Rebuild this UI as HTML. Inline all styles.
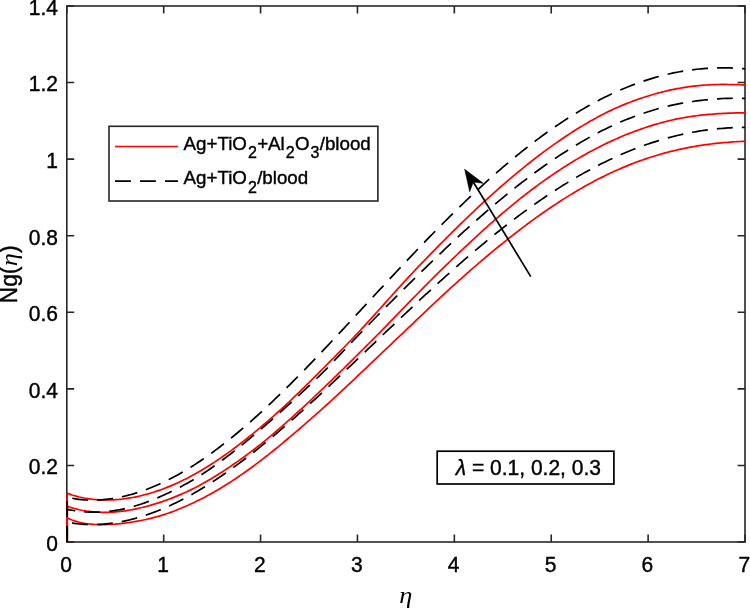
<!DOCTYPE html>
<html lang="en"><head><meta charset="utf-8"><title>Ng(eta) plot</title>
<style>html,body{margin:0;padding:0;background:#fff;}svg{display:block;}text{font-family:"Liberation Sans", sans-serif;fill:#000;stroke:#000;stroke-width:0.4px;}</style>
</head><body>
<svg width="750" height="608" viewBox="0 0 750 608">
<rect x="0" y="0" width="750" height="608" fill="#fff"/>
<rect x="66.80" y="6.00" width="678.20" height="536.00" fill="none" stroke="#262626" stroke-width="1.60"/>
<path d="M66.80,542.00 v-7.40 M66.80,6.00 v7.40 M163.69,542.00 v-7.40 M163.69,6.00 v7.40 M260.57,542.00 v-7.40 M260.57,6.00 v7.40 M357.46,542.00 v-7.40 M357.46,6.00 v7.40 M454.34,542.00 v-7.40 M454.34,6.00 v7.40 M551.23,542.00 v-7.40 M551.23,6.00 v7.40 M648.11,542.00 v-7.40 M648.11,6.00 v7.40 M745.00,542.00 v-7.40 M745.00,6.00 v7.40 M66.80,542.00 h7.40 M745.00,542.00 h-7.40 M66.80,465.43 h7.40 M745.00,465.43 h-7.40 M66.80,388.86 h7.40 M745.00,388.86 h-7.40 M66.80,312.29 h7.40 M745.00,312.29 h-7.40 M66.80,235.71 h7.40 M745.00,235.71 h-7.40 M66.80,159.14 h7.40 M745.00,159.14 h-7.40 M66.80,82.57 h7.40 M745.00,82.57 h-7.40 M66.80,6.00 h7.40 M745.00,6.00 h-7.40" fill="none" stroke="#262626" stroke-width="1.60"/>
<path d="M67.20,542.00 L67.20,493.21 L69.62,494.12 L72.04,494.94 L74.46,495.69 L76.88,496.37 L79.30,496.99 L81.72,497.54 L84.15,498.03 L86.57,498.46 L88.99,498.83 L91.41,499.15 L93.83,499.41 L96.25,499.63 L98.67,499.80 L101.09,499.92 L103.51,499.99 L105.93,500.02 L108.35,500.01 L110.77,499.95 L113.19,499.85 L115.61,499.70 L118.03,499.52 L120.46,499.29 L122.88,499.02 L125.30,498.71 L127.72,498.36 L130.14,497.96 L132.56,497.53 L134.98,497.06 L137.40,496.55 L139.82,496.00 L142.24,495.41 L144.66,494.80 L147.08,494.14 L149.50,493.45 L151.93,492.72 L154.35,491.96 L156.77,491.16 L159.19,490.33 L161.61,489.47 L164.03,488.56 L166.45,487.63 L168.87,486.65 L171.29,485.65 L173.71,484.61 L176.13,483.53 L178.55,482.42 L180.97,481.28 L183.39,480.10 L185.81,478.89 L188.24,477.64 L190.66,476.36 L193.08,475.05 L195.50,473.71 L197.92,472.34 L200.34,470.94 L202.76,469.50 L205.18,468.04 L207.60,466.55 L210.02,465.03 L212.44,463.48 L214.86,461.90 L217.28,460.29 L219.71,458.66 L222.13,457.00 L224.55,455.31 L226.97,453.60 L229.39,451.85 L231.81,450.09 L234.23,448.29 L236.65,446.47 L239.07,444.63 L241.49,442.76 L243.91,440.87 L246.33,438.96 L248.75,437.02 L251.17,435.07 L253.59,433.09 L256.02,431.09 L258.44,429.08 L260.86,427.04 L263.28,424.99 L265.70,422.91 L268.12,420.82 L270.54,418.71 L272.96,416.58 L275.38,414.42 L277.80,412.25 L280.22,410.06 L282.64,407.84 L285.06,405.61 L287.49,403.35 L289.91,401.08 L292.33,398.78 L294.75,396.47 L297.17,394.14 L299.59,391.79 L302.01,389.43 L304.43,387.06 L306.85,384.68 L309.27,382.28 L311.69,379.87 L314.11,377.46 L316.53,375.03 L318.95,372.60 L321.38,370.16 L323.80,367.73 L326.22,365.31 L328.64,362.88 L331.06,360.45 L333.48,358.02 L335.90,355.59 L338.32,353.15 L340.74,350.70 L343.16,348.24 L345.58,345.76 L348.00,343.27 L350.42,340.77 L352.84,338.25 L355.26,335.70 L357.69,333.13 L360.11,330.54 L362.53,327.94 L364.95,325.31 L367.37,322.67 L369.79,320.01 L372.21,317.34 L374.63,314.66 L377.05,311.98 L379.47,309.28 L381.89,306.59 L384.31,303.89 L386.73,301.19 L389.15,298.49 L391.58,295.79 L394.00,293.10 L396.42,290.42 L398.84,287.75 L401.26,285.08 L403.68,282.43 L406.10,279.80 L408.52,277.18 L410.94,274.58 L413.36,272.00 L415.78,269.45 L418.20,266.91 L420.62,264.37 L423.04,261.85 L425.47,259.33 L427.89,256.82 L430.31,254.32 L432.73,251.83 L435.15,249.35 L437.57,246.88 L439.99,244.43 L442.41,241.98 L444.83,239.55 L447.25,237.14 L449.67,234.73 L452.09,232.33 L454.51,229.94 L456.94,227.57 L459.36,225.20 L461.78,222.85 L464.20,220.51 L466.62,218.18 L469.04,215.86 L471.46,213.56 L473.88,211.26 L476.30,208.99 L478.72,206.72 L481.14,204.47 L483.56,202.23 L485.98,200.01 L488.40,197.80 L490.82,195.61 L493.25,193.43 L495.67,191.27 L498.09,189.13 L500.51,187.00 L502.93,184.88 L505.35,182.78 L507.77,180.70 L510.19,178.64 L512.61,176.59 L515.03,174.56 L517.45,172.55 L519.87,170.55 L522.29,168.57 L524.72,166.62 L527.14,164.68 L529.56,162.75 L531.98,160.85 L534.40,158.97 L536.82,157.10 L539.24,155.26 L541.66,153.43 L544.08,151.63 L546.50,149.84 L548.92,148.08 L551.34,146.34 L553.76,144.61 L556.18,142.91 L558.61,141.23 L561.03,139.57 L563.45,137.93 L565.87,136.31 L568.29,134.72 L570.71,133.14 L573.13,131.59 L575.55,130.06 L577.97,128.56 L580.39,127.07 L582.81,125.61 L585.23,124.17 L587.65,122.76 L590.07,121.36 L592.50,119.99 L594.92,118.65 L597.34,117.33 L599.76,116.03 L602.18,114.76 L604.60,113.52 L607.02,112.31 L609.44,111.13 L611.86,109.98 L614.28,108.85 L616.70,107.76 L619.12,106.69 L621.54,105.65 L623.96,104.64 L626.39,103.66 L628.81,102.70 L631.23,101.77 L633.65,100.86 L636.07,99.98 L638.49,99.13 L640.91,98.29 L643.33,97.49 L645.75,96.70 L648.17,95.94 L650.59,95.20 L653.01,94.49 L655.43,93.79 L657.85,93.12 L660.27,92.47 L662.70,91.85 L665.12,91.25 L667.54,90.68 L669.96,90.14 L672.38,89.62 L674.80,89.13 L677.22,88.66 L679.64,88.22 L682.06,87.80 L684.48,87.41 L686.90,87.05 L689.32,86.71 L691.74,86.40 L694.17,86.11 L696.59,85.84 L699.01,85.60 L701.43,85.38 L703.85,85.19 L706.27,85.01 L708.69,84.86 L711.11,84.74 L713.53,84.63 L715.95,84.55 L718.37,84.49 L720.79,84.46 L723.21,84.46 L725.63,84.47 L728.05,84.50 L730.48,84.53 L732.90,84.57 L735.32,84.61 L737.74,84.66 L740.16,84.73 L742.58,84.82 L745.00,84.93" fill="none" stroke="#ff0000" stroke-width="1.70" stroke-linejoin="round"/>
<path d="M67.20,542.00 L67.20,506.21 L69.62,507.05 L72.04,507.82 L74.46,508.51 L76.88,509.15 L79.30,509.72 L81.72,510.23 L84.15,510.68 L86.57,511.08 L88.99,511.42 L91.41,511.71 L93.83,511.94 L96.25,512.13 L98.67,512.27 L101.09,512.36 L103.51,512.40 L105.93,512.39 L108.35,512.35 L110.77,512.25 L113.19,512.12 L115.61,511.94 L118.03,511.72 L120.46,511.46 L122.88,511.16 L125.30,510.82 L127.72,510.44 L130.14,510.02 L132.56,509.56 L134.98,509.08 L137.40,508.57 L139.82,508.03 L142.24,507.46 L144.66,506.86 L147.08,506.23 L149.50,505.57 L151.93,504.89 L154.35,504.17 L156.77,503.43 L159.19,502.65 L161.61,501.85 L164.03,501.02 L166.45,500.16 L168.87,499.26 L171.29,498.34 L173.71,497.39 L176.13,496.41 L178.55,495.40 L180.97,494.36 L183.39,493.29 L185.81,492.19 L188.24,491.05 L190.66,489.89 L193.08,488.69 L195.50,487.47 L197.92,486.21 L200.34,484.92 L202.76,483.60 L205.18,482.24 L207.60,480.86 L210.02,479.44 L212.44,477.99 L214.86,476.51 L217.28,475.01 L219.71,473.48 L222.13,471.92 L224.55,470.34 L226.97,468.74 L229.39,467.12 L231.81,465.47 L234.23,463.81 L236.65,462.12 L239.07,460.42 L241.49,458.70 L243.91,456.95 L246.33,455.19 L248.75,453.40 L251.17,451.58 L253.59,449.75 L256.02,447.88 L258.44,446.00 L260.86,444.08 L263.28,442.14 L265.70,440.17 L268.12,438.17 L270.54,436.14 L272.96,434.09 L275.38,432.02 L277.80,429.94 L280.22,427.84 L282.64,425.72 L285.06,423.59 L287.49,421.44 L289.91,419.27 L292.33,417.10 L294.75,414.90 L297.17,412.70 L299.59,410.49 L302.01,408.26 L304.43,406.02 L306.85,403.77 L309.27,401.52 L311.69,399.25 L314.11,396.97 L316.53,394.68 L318.95,392.38 L321.38,390.08 L323.80,387.77 L326.22,385.45 L328.64,383.12 L331.06,380.78 L333.48,378.44 L335.90,376.09 L338.32,373.73 L340.74,371.37 L343.16,368.99 L345.58,366.61 L348.00,364.22 L350.42,361.82 L352.84,359.42 L355.26,357.01 L357.69,354.60 L360.11,352.19 L362.53,349.77 L364.95,347.35 L367.37,344.93 L369.79,342.51 L372.21,340.08 L374.63,337.66 L377.05,335.23 L379.47,332.80 L381.89,330.34 L384.31,327.88 L386.73,325.41 L389.15,322.93 L391.58,320.45 L394.00,317.95 L396.42,315.45 L398.84,312.95 L401.26,310.45 L403.68,307.95 L406.10,305.45 L408.52,302.94 L410.94,300.45 L413.36,297.95 L415.78,295.47 L418.20,292.99 L420.62,290.51 L423.04,288.05 L425.47,285.60 L427.89,283.16 L430.31,280.74 L432.73,278.33 L435.15,275.94 L437.57,273.56 L439.99,271.19 L442.41,268.82 L444.83,266.45 L447.25,264.09 L449.67,261.74 L452.09,259.40 L454.51,257.07 L456.94,254.74 L459.36,252.43 L461.78,250.13 L464.20,247.84 L466.62,245.56 L469.04,243.29 L471.46,241.04 L473.88,238.79 L476.30,236.56 L478.72,234.34 L481.14,232.13 L483.56,229.94 L485.98,227.76 L488.40,225.59 L490.82,223.44 L493.25,221.31 L495.67,219.19 L498.09,217.09 L500.51,215.00 L502.93,212.93 L505.35,210.88 L507.77,208.85 L510.19,206.83 L512.61,204.84 L515.03,202.86 L517.45,200.90 L519.87,198.96 L522.29,197.04 L524.72,195.14 L527.14,193.25 L529.56,191.39 L531.98,189.55 L534.40,187.73 L536.82,185.93 L539.24,184.16 L541.66,182.40 L544.08,180.66 L546.50,178.95 L548.92,177.26 L551.34,175.58 L553.76,173.93 L556.18,172.30 L558.61,170.70 L561.03,169.11 L563.45,167.55 L565.87,166.01 L568.29,164.48 L570.71,162.99 L573.13,161.51 L575.55,160.05 L577.97,158.62 L580.39,157.21 L582.81,155.82 L585.23,154.45 L587.65,153.11 L590.07,151.78 L592.50,150.48 L594.92,149.20 L597.34,147.94 L599.76,146.71 L602.18,145.50 L604.60,144.31 L607.02,143.14 L609.44,141.99 L611.86,140.87 L614.28,139.76 L616.70,138.68 L619.12,137.63 L621.54,136.59 L623.96,135.58 L626.39,134.58 L628.81,133.62 L631.23,132.67 L633.65,131.74 L636.07,130.84 L638.49,129.96 L640.91,129.10 L643.33,128.27 L645.75,127.45 L648.17,126.66 L650.59,125.89 L653.01,125.15 L655.43,124.42 L657.85,123.72 L660.27,123.04 L662.70,122.38 L665.12,121.74 L667.54,121.12 L669.96,120.53 L672.38,119.97 L674.80,119.44 L677.22,118.93 L679.64,118.44 L682.06,117.98 L684.48,117.55 L686.90,117.14 L689.32,116.76 L691.74,116.39 L694.17,116.05 L696.59,115.73 L699.01,115.43 L701.43,115.15 L703.85,114.89 L706.27,114.65 L708.69,114.43 L711.11,114.23 L713.53,114.04 L715.95,113.87 L718.37,113.72 L720.79,113.58 L723.21,113.45 L725.63,113.33 L728.05,113.22 L730.48,113.12 L732.90,113.03 L735.32,112.95 L737.74,112.89 L740.16,112.85 L742.58,112.82 L745.00,112.81" fill="none" stroke="#ff0000" stroke-width="1.70" stroke-linejoin="round"/>
<path d="M67.20,542.00 L67.20,517.81 L69.62,518.97 L72.04,519.98 L74.46,520.86 L76.88,521.61 L79.30,522.26 L81.72,522.81 L84.15,523.27 L86.57,523.65 L88.99,523.96 L91.41,524.20 L93.83,524.39 L96.25,524.52 L98.67,524.60 L101.09,524.64 L103.51,524.64 L105.93,524.60 L108.35,524.51 L110.77,524.40 L113.19,524.25 L115.61,524.06 L118.03,523.84 L120.46,523.60 L122.88,523.34 L125.30,523.05 L127.72,522.74 L130.14,522.39 L132.56,522.03 L134.98,521.63 L137.40,521.21 L139.82,520.76 L142.24,520.28 L144.66,519.78 L147.08,519.24 L149.50,518.67 L151.93,518.07 L154.35,517.44 L156.77,516.78 L159.19,516.08 L161.61,515.35 L164.03,514.59 L166.45,513.79 L168.87,512.96 L171.29,512.09 L173.71,511.19 L176.13,510.25 L178.55,509.29 L180.97,508.30 L183.39,507.28 L185.81,506.24 L188.24,505.17 L190.66,504.07 L193.08,502.94 L195.50,501.79 L197.92,500.61 L200.34,499.40 L202.76,498.16 L205.18,496.90 L207.60,495.61 L210.02,494.29 L212.44,492.94 L214.86,491.57 L217.28,490.16 L219.71,488.73 L222.13,487.27 L224.55,485.79 L226.97,484.27 L229.39,482.73 L231.81,481.16 L234.23,479.56 L236.65,477.94 L239.07,476.30 L241.49,474.63 L243.91,472.94 L246.33,471.22 L248.75,469.49 L251.17,467.73 L253.59,465.96 L256.02,464.16 L258.44,462.34 L260.86,460.51 L263.28,458.65 L265.70,456.77 L268.12,454.86 L270.54,452.93 L272.96,450.99 L275.38,449.02 L277.80,447.04 L280.22,445.04 L282.64,443.03 L285.06,441.02 L287.49,438.99 L289.91,436.97 L292.33,434.93 L294.75,432.88 L297.17,430.82 L299.59,428.75 L302.01,426.67 L304.43,424.57 L306.85,422.47 L309.27,420.35 L311.69,418.23 L314.11,416.09 L316.53,413.94 L318.95,411.79 L321.38,409.62 L323.80,407.44 L326.22,405.25 L328.64,403.06 L331.06,400.85 L333.48,398.63 L335.90,396.41 L338.32,394.17 L340.74,391.93 L343.16,389.67 L345.58,387.40 L348.00,385.13 L350.42,382.85 L352.84,380.56 L355.26,378.27 L357.69,375.98 L360.11,373.68 L362.53,371.38 L364.95,369.07 L367.37,366.77 L369.79,364.46 L372.21,362.16 L374.63,359.85 L377.05,357.55 L379.47,355.25 L381.89,352.95 L384.31,350.66 L386.73,348.36 L389.15,346.06 L391.58,343.77 L394.00,341.47 L396.42,339.17 L398.84,336.87 L401.26,334.57 L403.68,332.27 L406.10,329.96 L408.52,327.65 L410.94,325.35 L413.36,323.04 L415.78,320.73 L418.20,318.42 L420.62,316.12 L423.04,313.82 L425.47,311.52 L427.89,309.23 L430.31,306.94 L432.73,304.66 L435.15,302.38 L437.57,300.12 L439.99,297.86 L442.41,295.61 L444.83,293.37 L447.25,291.14 L449.67,288.93 L452.09,286.73 L454.51,284.54 L456.94,282.36 L459.36,280.19 L461.78,278.02 L464.20,275.87 L466.62,273.73 L469.04,271.60 L471.46,269.48 L473.88,267.37 L476.30,265.28 L478.72,263.19 L481.14,261.12 L483.56,259.06 L485.98,257.02 L488.40,254.98 L490.82,252.96 L493.25,250.95 L495.67,248.95 L498.09,246.97 L500.51,245.00 L502.93,243.04 L505.35,241.10 L507.77,239.17 L510.19,237.25 L512.61,235.35 L515.03,233.46 L517.45,231.59 L519.87,229.73 L522.29,227.89 L524.72,226.06 L527.14,224.25 L529.56,222.46 L531.98,220.68 L534.40,218.92 L536.82,217.17 L539.24,215.44 L541.66,213.73 L544.08,212.04 L546.50,210.36 L548.92,208.70 L551.34,207.06 L553.76,205.44 L556.18,203.84 L558.61,202.25 L561.03,200.69 L563.45,199.14 L565.87,197.61 L568.29,196.10 L570.71,194.62 L573.13,193.15 L575.55,191.70 L577.97,190.27 L580.39,188.86 L582.81,187.48 L585.23,186.11 L587.65,184.76 L590.07,183.44 L592.50,182.13 L594.92,180.85 L597.34,179.59 L599.76,178.35 L602.18,177.13 L604.60,175.93 L607.02,174.75 L609.44,173.60 L611.86,172.46 L614.28,171.35 L616.70,170.26 L619.12,169.19 L621.54,168.14 L623.96,167.11 L626.39,166.11 L628.81,165.12 L631.23,164.16 L633.65,163.22 L636.07,162.30 L638.49,161.41 L640.91,160.53 L643.33,159.68 L645.75,158.84 L648.17,158.03 L650.59,157.24 L653.01,156.47 L655.43,155.72 L657.85,154.99 L660.27,154.29 L662.70,153.60 L665.12,152.94 L667.54,152.29 L669.96,151.67 L672.38,151.06 L674.80,150.48 L677.22,149.91 L679.64,149.37 L682.06,148.84 L684.48,148.33 L686.90,147.85 L689.32,147.38 L691.74,146.93 L694.17,146.50 L696.59,146.09 L699.01,145.69 L701.43,145.32 L703.85,144.96 L706.27,144.61 L708.69,144.29 L711.11,143.98 L713.53,143.69 L715.95,143.42 L718.37,143.16 L720.79,142.92 L723.21,142.69 L725.63,142.48 L728.05,142.28 L730.48,142.10 L732.90,141.93 L735.32,141.77 L737.74,141.63 L740.16,141.50 L742.58,141.39 L745.00,141.28" fill="none" stroke="#ff0000" stroke-width="1.70" stroke-linejoin="round"/>
<path d="M67.20,542.00 L67.20,497.19 L69.62,497.74 L72.04,498.23 L74.46,498.67 L76.88,499.05 L79.30,499.38 L81.72,499.64 L84.15,499.85 L86.57,500.01 L88.99,500.10 L91.41,500.15 L93.83,500.14 L96.25,500.08 L98.67,499.97 L101.09,499.82 L103.51,499.62 L105.93,499.38 L108.35,499.10 L110.77,498.78 L113.19,498.42 L115.61,498.01 L118.03,497.57 L120.46,497.09 L122.88,496.57 L125.30,496.00 L127.72,495.40 L130.14,494.76 L132.56,494.09 L134.98,493.37 L137.40,492.62 L139.82,491.83 L142.24,491.00 L144.66,490.14 L147.08,489.24 L149.50,488.30 L151.93,487.33 L154.35,486.33 L156.77,485.28 L159.19,484.21 L161.61,483.10 L164.03,481.95 L166.45,480.77 L168.87,479.56 L171.29,478.32 L173.71,477.04 L176.13,475.73 L178.55,474.39 L180.97,473.01 L183.39,471.61 L185.81,470.17 L188.24,468.71 L190.66,467.21 L193.08,465.69 L195.50,464.13 L197.92,462.54 L200.34,460.93 L202.76,459.29 L205.18,457.62 L207.60,455.92 L210.02,454.20 L212.44,452.44 L214.86,450.67 L217.28,448.86 L219.71,447.03 L222.13,445.18 L224.55,443.30 L226.97,441.39 L229.39,439.46 L231.81,437.51 L234.23,435.53 L236.65,433.53 L239.07,431.51 L241.49,429.46 L243.91,427.40 L246.33,425.31 L248.75,423.20 L251.17,421.07 L253.59,418.92 L256.02,416.75 L258.44,414.56 L260.86,412.35 L263.28,410.13 L265.70,407.88 L268.12,405.62 L270.54,403.34 L272.96,401.04 L275.38,398.73 L277.80,396.40 L280.22,394.05 L282.64,391.69 L285.06,389.32 L287.49,386.93 L289.91,384.53 L292.33,382.11 L294.75,379.68 L297.17,377.24 L299.59,374.78 L302.01,372.32 L304.43,369.84 L306.85,367.35 L309.27,364.86 L311.69,362.35 L314.11,359.83 L316.53,357.30 L318.95,354.77 L321.38,352.23 L323.80,349.68 L326.22,347.12 L328.64,344.56 L331.06,341.99 L333.48,339.41 L335.90,336.83 L338.32,334.24 L340.74,331.65 L343.16,329.06 L345.58,326.46 L348.00,323.86 L350.42,321.25 L352.84,318.65 L355.26,316.04 L357.69,313.43 L360.11,310.82 L362.53,308.20 L364.95,305.59 L367.37,302.98 L369.79,300.36 L372.21,297.75 L374.63,295.14 L377.05,292.53 L379.47,289.92 L381.89,287.32 L384.31,284.71 L386.73,282.11 L389.15,279.52 L391.58,276.92 L394.00,274.33 L396.42,271.75 L398.84,269.17 L401.26,266.59 L403.68,264.02 L406.10,261.46 L408.52,258.90 L410.94,256.35 L413.36,253.81 L415.78,251.27 L418.20,248.74 L420.62,246.22 L423.04,243.70 L425.47,241.20 L427.89,238.70 L430.31,236.21 L432.73,233.73 L435.15,231.26 L437.57,228.81 L439.99,226.36 L442.41,223.92 L444.83,221.49 L447.25,219.07 L449.67,216.67 L452.09,214.28 L454.51,211.89 L456.94,209.53 L459.36,207.17 L461.78,204.83 L464.20,202.50 L466.62,200.18 L469.04,197.87 L471.46,195.58 L473.88,193.31 L476.30,191.05 L478.72,188.80 L481.14,186.57 L483.56,184.35 L485.98,182.15 L488.40,179.97 L490.82,177.80 L493.25,175.64 L495.67,173.50 L498.09,171.38 L500.51,169.28 L502.93,167.19 L505.35,165.12 L507.77,163.07 L510.19,161.03 L512.61,159.02 L515.03,157.02 L517.45,155.04 L519.87,153.08 L522.29,151.13 L524.72,149.21 L527.14,147.30 L529.56,145.41 L531.98,143.55 L534.40,141.70 L536.82,139.87 L539.24,138.06 L541.66,136.27 L544.08,134.51 L546.50,132.76 L548.92,131.03 L551.34,129.33 L553.76,127.64 L556.18,125.98 L558.61,124.34 L561.03,122.72 L563.45,121.12 L565.87,119.54 L568.29,117.98 L570.71,116.45 L573.13,114.94 L575.55,113.45 L577.97,111.98 L580.39,110.53 L582.81,109.11 L585.23,107.71 L587.65,106.33 L590.07,104.98 L592.50,103.65 L594.92,102.34 L597.34,101.06 L599.76,99.79 L602.18,98.56 L604.60,97.34 L607.02,96.15 L609.44,94.98 L611.86,93.84 L614.28,92.72 L616.70,91.63 L619.12,90.56 L621.54,89.51 L623.96,88.49 L626.39,87.49 L628.81,86.51 L631.23,85.56 L633.65,84.64 L636.07,83.74 L638.49,82.86 L640.91,82.01 L643.33,81.18 L645.75,80.38 L648.17,79.60 L650.59,78.85 L653.01,78.12 L655.43,77.42 L657.85,76.74 L660.27,76.08 L662.70,75.46 L665.12,74.85 L667.54,74.27 L669.96,73.72 L672.38,73.19 L674.80,72.69 L677.22,72.21 L679.64,71.75 L682.06,71.32 L684.48,70.92 L686.90,70.54 L689.32,70.19 L691.74,69.86 L694.17,69.55 L696.59,69.27 L699.01,69.02 L701.43,68.79 L703.85,68.59 L706.27,68.41 L708.69,68.25 L711.11,68.12 L713.53,68.01 L715.95,67.93 L718.37,67.88 L720.79,67.84 L723.21,67.84 L725.63,67.85 L728.05,67.89 L730.48,67.96 L732.90,68.05 L735.32,68.16 L737.74,68.30 L740.16,68.46 L742.58,68.65 L745.00,68.86" fill="none" stroke="#000" stroke-width="1.70" stroke-dasharray="15.9 9.1" stroke-linejoin="round"/>
<path d="M67.20,542.00 L67.20,509.30 L69.62,509.80 L72.04,510.25 L74.46,510.66 L76.88,511.01 L79.30,511.32 L81.72,511.57 L84.15,511.78 L86.57,511.95 L88.99,512.06 L91.41,512.13 L93.83,512.16 L96.25,512.14 L98.67,512.07 L101.09,511.96 L103.51,511.81 L105.93,511.61 L108.35,511.37 L110.77,511.09 L113.19,510.76 L115.61,510.39 L118.03,509.99 L120.46,509.54 L122.88,509.05 L125.30,508.52 L127.72,507.95 L130.14,507.34 L132.56,506.69 L134.98,506.01 L137.40,505.29 L139.82,504.52 L142.24,503.73 L144.66,502.89 L147.08,502.02 L149.50,501.12 L151.93,500.18 L154.35,499.20 L156.77,498.19 L159.19,497.15 L161.61,496.07 L164.03,494.96 L166.45,493.83 L168.87,492.68 L171.29,491.51 L173.71,490.33 L176.13,489.12 L178.55,487.89 L180.97,486.63 L183.39,485.35 L185.81,484.03 L188.24,482.69 L190.66,481.31 L193.08,479.90 L195.50,478.45 L197.92,476.96 L200.34,475.43 L202.76,473.85 L205.18,472.25 L207.60,470.61 L210.02,468.96 L212.44,467.27 L214.86,465.57 L217.28,463.84 L219.71,462.08 L222.13,460.31 L224.55,458.51 L226.97,456.68 L229.39,454.84 L231.81,452.98 L234.23,451.09 L236.65,449.18 L239.07,447.26 L241.49,445.31 L243.91,443.34 L246.33,441.36 L248.75,439.35 L251.17,437.33 L253.59,435.30 L256.02,433.25 L258.44,431.20 L260.86,429.14 L263.28,427.07 L265.70,424.99 L268.12,422.90 L270.54,420.80 L272.96,418.69 L275.38,416.56 L277.80,414.42 L280.22,412.27 L282.64,410.11 L285.06,407.93 L287.49,405.74 L289.91,403.53 L292.33,401.32 L294.75,399.10 L297.17,396.88 L299.59,394.65 L302.01,392.42 L304.43,390.17 L306.85,387.91 L309.27,385.64 L311.69,383.34 L314.11,381.03 L316.53,378.69 L318.95,376.33 L321.38,373.94 L323.80,371.51 L326.22,369.04 L328.64,366.55 L331.06,364.04 L333.48,361.51 L335.90,358.96 L338.32,356.40 L340.74,353.83 L343.16,351.26 L345.58,348.69 L348.00,346.12 L350.42,343.56 L352.84,341.02 L355.26,338.49 L357.69,335.97 L360.11,333.47 L362.53,330.97 L364.95,328.47 L367.37,325.97 L369.79,323.47 L372.21,320.98 L374.63,318.49 L377.05,316.01 L379.47,313.54 L381.89,311.07 L384.31,308.62 L386.73,306.18 L389.15,303.75 L391.58,301.32 L394.00,298.90 L396.42,296.47 L398.84,294.06 L401.26,291.64 L403.68,289.23 L406.10,286.83 L408.52,284.43 L410.94,282.03 L413.36,279.64 L415.78,277.26 L418.20,274.88 L420.62,272.51 L423.04,270.15 L425.47,267.79 L427.89,265.44 L430.31,263.10 L432.73,260.76 L435.15,258.44 L437.57,256.12 L439.99,253.81 L442.41,251.51 L444.83,249.22 L447.25,246.93 L449.67,244.66 L452.09,242.40 L454.51,240.15 L456.94,237.91 L459.36,235.67 L461.78,233.45 L464.20,231.24 L466.62,229.05 L469.04,226.86 L471.46,224.69 L473.88,222.52 L476.30,220.37 L478.72,218.24 L481.14,216.11 L483.56,214.00 L485.98,211.90 L488.40,209.82 L490.82,207.75 L493.25,205.69 L495.67,203.65 L498.09,201.62 L500.51,199.60 L502.93,197.60 L505.35,195.62 L507.77,193.65 L510.19,191.69 L512.61,189.76 L515.03,187.83 L517.45,185.93 L519.87,184.04 L522.29,182.16 L524.72,180.30 L527.14,178.46 L529.56,176.64 L531.98,174.83 L534.40,173.04 L536.82,171.27 L539.24,169.52 L541.66,167.78 L544.08,166.06 L546.50,164.36 L548.92,162.68 L551.34,161.01 L553.76,159.37 L556.18,157.74 L558.61,156.13 L561.03,154.54 L563.45,152.97 L565.87,151.42 L568.29,149.89 L570.71,148.38 L573.13,146.89 L575.55,145.42 L577.97,143.97 L580.39,142.54 L582.81,141.13 L585.23,139.74 L587.65,138.37 L590.07,137.03 L592.50,135.70 L594.92,134.39 L597.34,133.11 L599.76,131.85 L602.18,130.61 L604.60,129.39 L607.02,128.20 L609.44,127.04 L611.86,125.90 L614.28,124.78 L616.70,123.70 L619.12,122.63 L621.54,121.59 L623.96,120.57 L626.39,119.58 L628.81,118.61 L631.23,117.67 L633.65,116.75 L636.07,115.85 L638.49,114.98 L640.91,114.13 L643.33,113.30 L645.75,112.49 L648.17,111.71 L650.59,110.95 L653.01,110.21 L655.43,109.49 L657.85,108.80 L660.27,108.13 L662.70,107.48 L665.12,106.86 L667.54,106.27 L669.96,105.70 L672.38,105.16 L674.80,104.64 L677.22,104.14 L679.64,103.66 L682.06,103.21 L684.48,102.78 L686.90,102.37 L689.32,101.97 L691.74,101.60 L694.17,101.25 L696.59,100.92 L699.01,100.61 L701.43,100.31 L703.85,100.03 L706.27,99.78 L708.69,99.54 L711.11,99.32 L713.53,99.12 L715.95,98.94 L718.37,98.78 L720.79,98.64 L723.21,98.52 L725.63,98.42 L728.05,98.34 L730.48,98.28 L732.90,98.24 L735.32,98.22 L737.74,98.22 L740.16,98.25 L742.58,98.29 L745.00,98.36" fill="none" stroke="#000" stroke-width="1.70" stroke-dasharray="15.9 9.1" stroke-linejoin="round"/>
<path d="M67.20,542.00 L67.20,521.90 L69.62,522.44 L72.04,522.91 L74.46,523.32 L76.88,523.67 L79.30,523.96 L81.72,524.19 L84.15,524.37 L86.57,524.50 L88.99,524.58 L91.41,524.61 L93.83,524.60 L96.25,524.54 L98.67,524.44 L101.09,524.30 L103.51,524.12 L105.93,523.90 L108.35,523.65 L110.77,523.36 L113.19,523.03 L115.61,522.66 L118.03,522.26 L120.46,521.83 L122.88,521.35 L125.30,520.85 L127.72,520.31 L130.14,519.73 L132.56,519.12 L134.98,518.48 L137.40,517.80 L139.82,517.09 L142.24,516.35 L144.66,515.57 L147.08,514.76 L149.50,513.92 L151.93,513.05 L154.35,512.15 L156.77,511.21 L159.19,510.25 L161.61,509.25 L164.03,508.23 L166.45,507.18 L168.87,506.09 L171.29,504.98 L173.71,503.84 L176.13,502.67 L178.55,501.47 L180.97,500.24 L183.39,498.99 L185.81,497.71 L188.24,496.40 L190.66,495.07 L193.08,493.71 L195.50,492.32 L197.92,490.91 L200.34,489.47 L202.76,488.01 L205.18,486.53 L207.60,485.02 L210.02,483.48 L212.44,481.93 L214.86,480.35 L217.28,478.75 L219.71,477.12 L222.13,475.47 L224.55,473.80 L226.97,472.11 L229.39,470.40 L231.81,468.67 L234.23,466.92 L236.65,465.15 L239.07,463.35 L241.49,461.54 L243.91,459.71 L246.33,457.86 L248.75,456.00 L251.17,454.11 L253.59,452.21 L256.02,450.29 L258.44,448.35 L260.86,446.40 L263.28,444.43 L265.70,442.44 L268.12,440.44 L270.54,438.43 L272.96,436.40 L275.38,434.35 L277.80,432.30 L280.22,430.22 L282.64,428.14 L285.06,426.04 L287.49,423.93 L289.91,421.81 L292.33,419.67 L294.75,417.53 L297.17,415.37 L299.59,413.20 L302.01,411.03 L304.43,408.84 L306.85,406.64 L309.27,404.44 L311.69,402.22 L314.11,400.00 L316.53,397.77 L318.95,395.53 L321.38,393.28 L323.80,391.03 L326.22,388.77 L328.64,386.51 L331.06,384.24 L333.48,381.96 L335.90,379.68 L338.32,377.39 L340.74,375.10 L343.16,372.81 L345.58,370.51 L348.00,368.21 L350.42,365.90 L352.84,363.60 L355.26,361.29 L357.69,358.98 L360.11,356.66 L362.53,354.35 L364.95,352.03 L367.37,349.72 L369.79,347.40 L372.21,345.08 L374.63,342.77 L377.05,340.45 L379.47,338.14 L381.89,335.83 L384.31,333.51 L386.73,331.20 L389.15,328.90 L391.58,326.59 L394.00,324.29 L396.42,321.99 L398.84,319.69 L401.26,317.40 L403.68,315.11 L406.10,312.83 L408.52,310.55 L410.94,308.28 L413.36,306.01 L415.78,303.74 L418.20,301.48 L420.62,299.23 L423.04,296.98 L425.47,294.74 L427.89,292.51 L430.31,290.28 L432.73,288.06 L435.15,285.85 L437.57,283.64 L439.99,281.45 L442.41,279.26 L444.83,277.08 L447.25,274.91 L449.67,272.75 L452.09,270.59 L454.51,268.45 L456.94,266.32 L459.36,264.19 L461.78,262.08 L464.20,259.97 L466.62,257.88 L469.04,255.80 L471.46,253.73 L473.88,251.67 L476.30,249.62 L478.72,247.58 L481.14,245.56 L483.56,243.54 L485.98,241.54 L488.40,239.55 L490.82,237.58 L493.25,235.61 L495.67,233.66 L498.09,231.73 L500.51,229.80 L502.93,227.90 L505.35,226.00 L507.77,224.12 L510.19,222.25 L512.61,220.40 L515.03,218.56 L517.45,216.74 L519.87,214.93 L522.29,213.13 L524.72,211.35 L527.14,209.59 L529.56,207.84 L531.98,206.11 L534.40,204.40 L536.82,202.70 L539.24,201.01 L541.66,199.34 L544.08,197.69 L546.50,196.06 L548.92,194.44 L551.34,192.84 L553.76,191.26 L556.18,189.69 L558.61,188.14 L561.03,186.61 L563.45,185.09 L565.87,183.60 L568.29,182.12 L570.71,180.66 L573.13,179.21 L575.55,177.79 L577.97,176.38 L580.39,175.00 L582.81,173.63 L585.23,172.28 L587.65,170.94 L590.07,169.63 L592.50,168.34 L594.92,167.06 L597.34,165.80 L599.76,164.57 L602.18,163.35 L604.60,162.15 L607.02,160.97 L609.44,159.81 L611.86,158.67 L614.28,157.55 L616.70,156.45 L619.12,155.37 L621.54,154.31 L623.96,153.27 L626.39,152.25 L628.81,151.25 L631.23,150.27 L633.65,149.31 L636.07,148.37 L638.49,147.45 L640.91,146.55 L643.33,145.67 L645.75,144.81 L648.17,143.97 L650.59,143.15 L653.01,142.36 L655.43,141.58 L657.85,140.83 L660.27,140.09 L662.70,139.38 L665.12,138.68 L667.54,138.01 L669.96,137.36 L672.38,136.73 L674.80,136.12 L677.22,135.53 L679.64,134.96 L682.06,134.41 L684.48,133.88 L686.90,133.38 L689.32,132.89 L691.74,132.43 L694.17,131.98 L696.59,131.56 L699.01,131.16 L701.43,130.78 L703.85,130.42 L706.27,130.08 L708.69,129.76 L711.11,129.46 L713.53,129.18 L715.95,128.93 L718.37,128.69 L720.79,128.48 L723.21,128.28 L725.63,128.11 L728.05,127.95 L730.48,127.82 L732.90,127.71 L735.32,127.62 L737.74,127.55 L740.16,127.49 L742.58,127.46 L745.00,127.45" fill="none" stroke="#000" stroke-width="1.70" stroke-dasharray="15.9 9.1" stroke-linejoin="round"/>
<text transform="translate(66.10,571.8) scale(1,1.020)" font-size="21.00" text-anchor="middle">0</text>
<text transform="translate(162.99,571.8) scale(1,1.020)" font-size="21.00" text-anchor="middle">1</text>
<text transform="translate(259.87,571.8) scale(1,1.020)" font-size="21.00" text-anchor="middle">2</text>
<text transform="translate(356.76,571.8) scale(1,1.020)" font-size="21.00" text-anchor="middle">3</text>
<text transform="translate(453.64,571.8) scale(1,1.020)" font-size="21.00" text-anchor="middle">4</text>
<text transform="translate(550.53,571.8) scale(1,1.020)" font-size="21.00" text-anchor="middle">5</text>
<text transform="translate(647.41,571.8) scale(1,1.020)" font-size="21.00" text-anchor="middle">6</text>
<text transform="translate(744.30,571.8) scale(1,1.020)" font-size="21.00" text-anchor="middle">7</text>
<text transform="translate(57.9,550.80) scale(1,1.020)" font-size="21.00" text-anchor="end">0</text>
<text transform="translate(57.9,474.23) scale(1,1.020)" font-size="21.00" text-anchor="end">0.2</text>
<text transform="translate(57.9,397.66) scale(1,1.020)" font-size="21.00" text-anchor="end">0.4</text>
<text transform="translate(57.9,321.09) scale(1,1.020)" font-size="21.00" text-anchor="end">0.6</text>
<text transform="translate(57.9,244.51) scale(1,1.020)" font-size="21.00" text-anchor="end">0.8</text>
<text transform="translate(57.9,167.94) scale(1,1.020)" font-size="21.00" text-anchor="end">1</text>
<text transform="translate(57.9,91.37) scale(1,1.020)" font-size="21.00" text-anchor="end">1.2</text>
<text transform="translate(57.9,14.80) scale(1,1.020)" font-size="21.00" text-anchor="end">1.4</text>
<text transform="translate(405.9,602.7) scale(1.13,1)" font-size="23.4" text-anchor="middle" font-style="italic" style="font-family:'Liberation Serif', serif;stroke:none">η</text>
<g transform="translate(16.8,303.4) rotate(-90)"><text transform="scale(1,1.020)" font-size="22.90">Ng(</text><text transform="translate(37.2,0) scale(1.13,1)" font-size="23.4" font-style="italic" style="font-family:'Liberation Serif', serif;stroke:none">η</text><text transform="translate(50.5,0) scale(1,1.020)" font-size="22.90">)</text></g>
<rect x="109.0" y="126.3" width="268.9" height="74.7" fill="#fff" stroke="#262626" stroke-width="1.60"/>
<path d="M115,146.5 H178" stroke="#ff0000" stroke-width="1.70" fill="none"/>
<path d="M115,181.05 H178" stroke="#000" stroke-width="1.70" fill="none" stroke-dasharray="15.9 9.1"/>
<text transform="translate(183.6,149.7) scale(1,1.020)" font-size="18.75">Ag+TiO<tspan dx="1.0" dy="8.6" font-size="16.00">2</tspan><tspan dx="0.3" dy="-8.6">+Al</tspan><tspan dx="1.0" dy="8.6" font-size="16.00">2</tspan><tspan dx="0.3" dy="-8.6">O</tspan><tspan dx="1.0" dy="8.6" font-size="16.00">3</tspan><tspan dx="0.3" dy="-8.6">/blood</tspan></text>
<text transform="translate(183.6,183.8) scale(1,1.020)" font-size="18.75">Ag+TiO<tspan dx="1.0" dy="8.6" font-size="16.00">2</tspan><tspan dx="0.3" dy="-8.6">/blood</tspan></text>
<rect x="437.2" y="451.2" width="176.7" height="32.8" fill="#fff" stroke="#000" stroke-width="1.7"/>
<text transform="translate(455.8,475.3) scale(1,1.020)" font-size="21.00"><tspan font-style="italic">λ</tspan> = 0.1, 0.2, 0.3</text>
<path d="M530.75,276.65 L473.3,182.0" stroke="#000" stroke-width="1.7" fill="none"/>
<path d="M464.7,169.3 L483.3,183.3 L473.3,182.0 L469.7,191.7 Z" fill="#000" stroke="#000" stroke-width="0.6" stroke-linejoin="miter"/>
</svg>
</body></html>
